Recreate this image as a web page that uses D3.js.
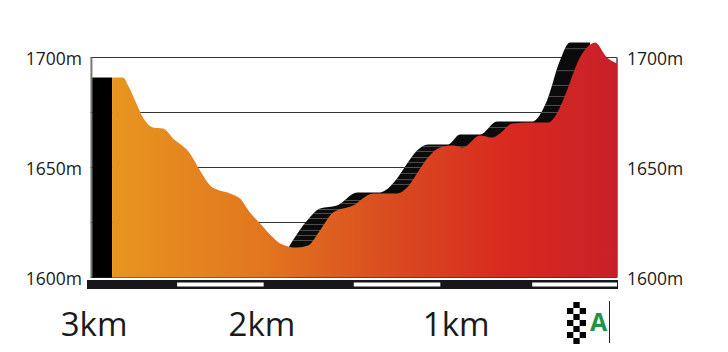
<!DOCTYPE html>
<html>
<head>
<meta charset="utf-8">
<script src="https://cdn.jsdelivr.net/npm/d3@7/dist/d3.min.js"></script>
<style>
  html, body { margin: 0; padding: 0; background: #fff; }
  svg { display: block; font-family: "Open Sans", sans-serif; }
</style>
</head>
<body>
<div id="profile"></div>
<script>
// km to go / altitude in metres
const profileKm = [2.858, 2.796, 2.767, 2.728, 2.683, 2.626, 2.569, 2.513, 2.417, 2.360, 2.303, 2.264, 2.190, 2.134, 2.077, 2.020, 1.964, 1.907, 1.811, 1.749, 1.681, 1.607, 1.494, 1.381, 1.245, 1.188, 1.132, 1.070, 1.002, 0.928, 0.872, 0.775, 0.707, 0.662, 0.594, 0.492, 0.390, 0.323, 0.277, 0.226, 0.170, 0.125, 0.057, 0];
const profileAlt = [1690.9, 1690.9, 1687.3, 1680.5, 1672.7, 1668.2, 1667.7, 1663.2, 1656.4, 1648.6, 1641.8, 1640, 1638.2, 1635.9, 1629.5, 1624.5, 1619.5, 1615.5, 1613.6, 1614.5, 1621.4, 1629.5, 1632.7, 1638.2, 1638.2, 1640.9, 1647.3, 1654.5, 1659.1, 1660, 1659.1, 1664.5, 1663.6, 1665.5, 1670, 1670.5, 1670.5, 1677.3, 1686.4, 1697.3, 1704.5, 1706.8, 1700, 1697.3];

// top edge of the black band behind the climb
const shadowKm = [1.856, 1.754, 1.681, 1.585, 1.471, 1.341, 1.313, 1.245, 1.188, 1.132, 1.070, 0.956, 0.889, 0.775, 0.679, 0.481, 0.396, 0.323, 0.266, 0.153];
const shadowAlt = [1614.1, 1625.9, 1631.4, 1632.7, 1638.6, 1638.6, 1639.5, 1645, 1651.8, 1657.7, 1660.5, 1660.5, 1665, 1665, 1670.9, 1670.9, 1680.5, 1698.6, 1706.8, 1706.8];

// thin light lines across the band
const stripeAlt = [1704, 1694, 1687.3, 1682.3, 1678.2, 1675, 1668.2, 1659.5, 1657.3, 1654.5, 1652.3, 1650, 1647.3, 1644.5, 1642.3, 1635, 1633.6, 1630.9, 1629.1, 1626.8, 1624.1, 1621.4, 1619.1, 1616.8];

const gridAlt = [1600, 1625, 1650, 1675, 1700];
const altTicks = [1600, 1650, 1700];
const kmLabels = ["3km", "2km", "1km"];
const kmLabelPos = [2.96, 2.01, 0.91];
const whiteBars = [[2.49, 2.0], [1.49, 1.0], [0.48, 0]];
const flagRows = [0, 1, 2, 3, 4, 5, 6];
const flagCols = [0, 1, 2];

const width = 728, height = 352;
const x = d3.scaleLinear().domain([3, 0]).range([87, 617]);
const y = d3.scaleLinear().domain([1600, 1700]).range([277.5, 57.5]);

const svg = d3.select("#profile").append("svg")
  .attr("width", width).attr("height", height);

const defs = svg.append("defs");
const grad = defs.append("linearGradient").attr("id", "heat")
  .attr("gradientUnits", "userSpaceOnUse")
  .attr("x1", x(2.858)).attr("x2", x(0)).attr("y1", 0).attr("y2", 0);
grad.selectAll("stop")
  .data([[0, "#e7951f"], [0.3, "#e2761f"], [0.55, "#d94c20"], [0.78, "#d92a1f"], [1, "#c8202a"]])
  .join("stop")
  .attr("offset", d => d[0])
  .attr("stop-color", d => d[1]);

const profile = profileKm.map((d, i) => [d, profileAlt[i]]);
const shadow = shadowKm.map((d, i) => [d, shadowAlt[i]]);

const area = d3.area()
  .curve(d3.curveMonotoneX)
  .x(d => x(d[0]))
  .y0(y(1600))
  .y1(d => y(d[1]));

// grid
svg.append("g").selectAll("line")
  .data(gridAlt)
  .join("line")
  .attr("x1", x(2.98)).attr("x2", x(0))
  .attr("y1", d => y(d)).attr("y2", d => y(d))
  .attr("stroke", "#333").attr("stroke-width", 1);

// side rails
svg.append("g").selectAll("line")
  .data([2.975, 0])
  .join("line")
  .attr("x1", d => x(d)).attr("x2", d => x(d))
  .attr("y1", y(1700)).attr("y2", y(1600))
  .attr("stroke", "#777").attr("stroke-width", 2);

// black block at the start
svg.append("rect")
  .attr("x", x(2.97)).attr("width", x(2.858) - x(2.97))
  .attr("y", y(1690.9)).attr("height", y(1600) - y(1690.9))
  .attr("fill", "#000");

// black band
svg.append("path").datum(shadow)
  .attr("d", area)
  .attr("fill", "#0b0b0b");

defs.append("clipPath").attr("id", "bandClip")
  .append("path").datum(shadow).attr("d", area);

svg.append("g").attr("clip-path", "url(#bandClip)")
  .selectAll("line")
  .data(stripeAlt)
  .join("line")
  .attr("x1", x(2)).attr("x2", x(0))
  .attr("y1", d => y(d)).attr("y2", d => y(d))
  .attr("stroke", "#6e6e6e").attr("stroke-width", 0.7);

// the climb itself
svg.append("path").datum(profile)
  .attr("d", area)
  .attr("fill", "url(#heat)");

// km bar
svg.append("rect")
  .attr("x", x(3)).attr("width", x(0) - x(3) + 1)
  .attr("y", 280).attr("height", 9)
  .attr("fill", "#17171b");
svg.append("g").selectAll("rect")
  .data(whiteBars)
  .join("rect")
  .attr("x", d => x(d[0]))
  .attr("width", d => x(d[1]) - x(d[0]))
  .attr("y", 282.5).attr("height", 4)
  .attr("fill", "#fff");

// altitude labels on both sides
const axisL = d3.axisLeft(y).tickValues(altTicks).tickSize(0).tickPadding(0).tickFormat(d => d + "m");
const axisR = d3.axisRight(y).tickValues(altTicks).tickSize(0).tickPadding(0).tickFormat(d => d + "m");
const gL = svg.append("g").attr("transform", "translate(82,1)").call(axisL);
const gR = svg.append("g").attr("transform", "translate(627,1)").call(axisR);
[gL, gR].forEach(g => {
  g.select(".domain").remove();
  g.selectAll("text").attr("font-size", 17.5).attr("fill", "#1a1a1a")
    .attr("font-family", '"Open Sans", sans-serif');
});

// km labels
svg.append("g").selectAll("text")
  .data(kmLabels)
  .join("text")
  .attr("x", (d, i) => x(kmLabelPos[i]))
  .attr("y", 336)
  .attr("text-anchor", "middle")
  .attr("font-size", 33)
  .attr("fill", "#1a1a1a")
  .text(d => d);

// finish flag
const fx = d3.scaleBand().domain(flagCols).range([567, 586]);
const fy = d3.scaleBand().domain(flagRows).range([302, 344]);
const cells = flagRows.flatMap(r => flagCols.filter(c => (r + c) % 2 === 1).map(c => [c, r]));
svg.append("g").selectAll("rect")
  .data(cells)
  .join("rect")
  .attr("x", d => fx(d[0])).attr("y", d => fy(d[1]))
  .attr("width", fx.bandwidth()).attr("height", fy.bandwidth())
  .attr("fill", "#000");

svg.append("text")
  .attr("x", 598.5).attr("y", 331)
  .attr("text-anchor", "middle")
  .attr("font-size", 25).attr("font-weight", 700)
  .attr("fill", "#1f9348")
  .text("A");

svg.append("line")
  .attr("x1", 609.5).attr("x2", 609.5)
  .attr("y1", 301).attr("y2", 343)
  .attr("stroke", "#222").attr("stroke-width", 1);
</script>
</body>
</html>
